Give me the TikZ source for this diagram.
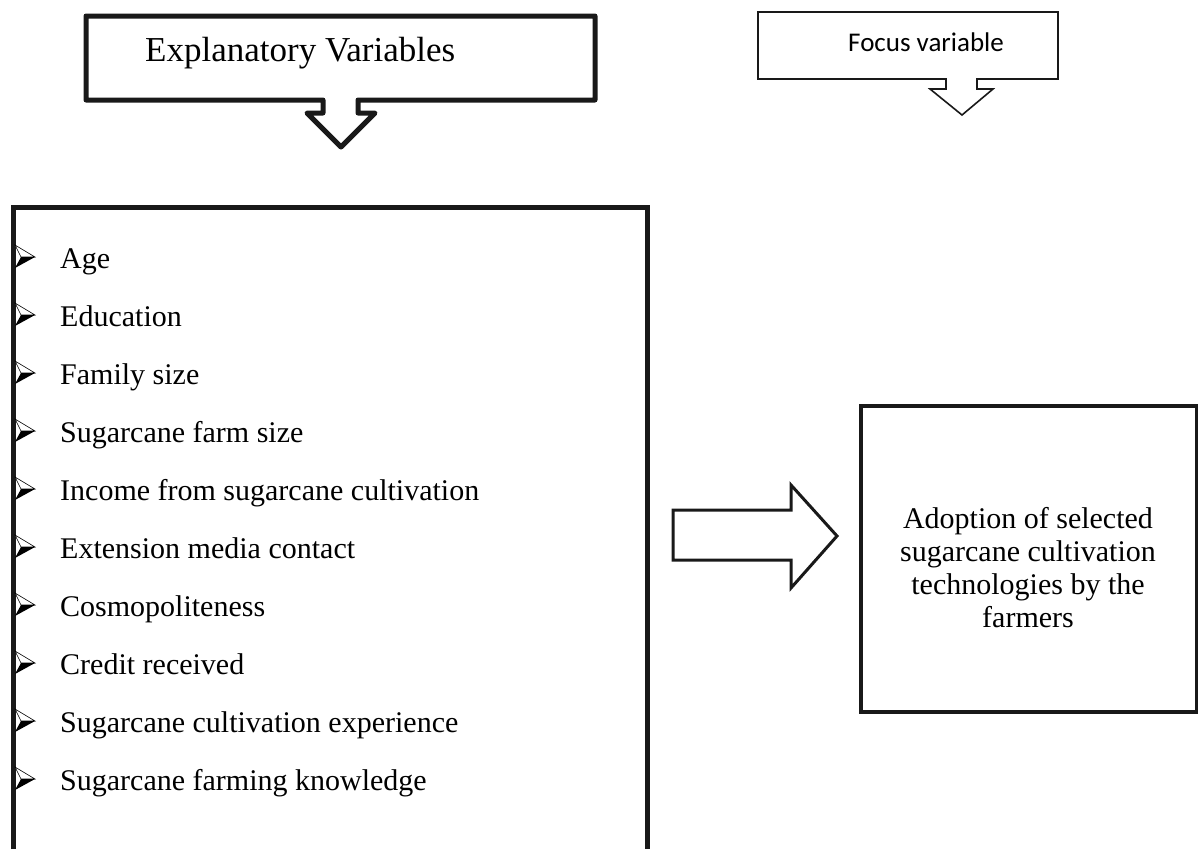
\documentclass[tikz,border=0pt]{standalone}
\usepackage{fontspec}
\setmainfont{Liberation Serif}
\newfontfamily\calib{Carlito}
\begin{document}
\begin{tikzpicture}[x=1pt,y=-1pt,
  thickline/.style={draw=black!90,line width=5pt,line join=round},
  thinline/.style={draw=black!90,line width=1.6pt,line join=miter},
  item/.style={anchor=base west,inner sep=0pt,font=\fontsize{30}{33}\selectfont},
  bul/.style={fill=black}]
\useasboundingbox (0,0) rectangle (1198,849);
% left callout
\draw[thickline] (86,16) -- (595,16) -- (595,100) -- (358,100) -- (358,113) -- (375,113)
  -- (341,147) -- (307,113) -- (323,113) -- (323,100) -- (86,100) -- cycle;
\node[anchor=base west,inner sep=0pt,font=\fontsize{35}{38}\selectfont] (expl) at (145,61) {Explanatory Variables};
% right callout
\draw[thinline] (758,12) -- (1058,12) -- (1058,79) -- (977,79) -- (977,89) -- (993,89)
  -- (962,115) -- (930,89) -- (946,89) -- (946,79) -- (758,79) -- cycle;
\node[anchor=base west,inner sep=0pt,font=\calib\fontsize{27}{30}\selectfont] (focus) at (848,51) {Focus variable};
% big box (open at bottom)
\draw[thickline,line join=miter] (13,849) -- (13,207) -- (647,207) -- (647,849);
% bullets and items
\foreach \t [count=\i from 0] in {Age,Education,Family size,Sugarcane farm size,Income from sugarcane cultivation,Extension media contact,Cosmopoliteness,Credit received,Sugarcane cultivation experience,Sugarcane farming knowledge}{
  \pgfmathsetmacro\yb{268+58*\i}
  \pgfmathsetmacro\yc{\yb-11}
  \draw[black,line width=0.6pt,fill=white] (35,\yc) -- (15,\yc-12) -- (21,\yc) -- cycle;
  \fill[bul] (35,\yc) -- (21,\yc) -- (15,\yc+11) -- cycle;
  \node[item] (it\i) at (60,\yb) {\t};
}
% big right arrow
\draw[draw=black!90,line width=3pt,line join=miter] (673,510) -- (791,510) -- (791,485) -- (837,536)
  -- (791,588) -- (791,560) -- (673,560) -- cycle;
% right box
\draw[draw=black!90,line width=4pt] (861,406) rectangle (1197,712);
\node[align=center,inner sep=0pt,font=\fontsize{30}{33}\selectfont] (adopt) at (1028,568)
  {Adoption of selected\\sugarcane cultivation\\technologies by the\\farmers};
\end{tikzpicture}
\end{document}
